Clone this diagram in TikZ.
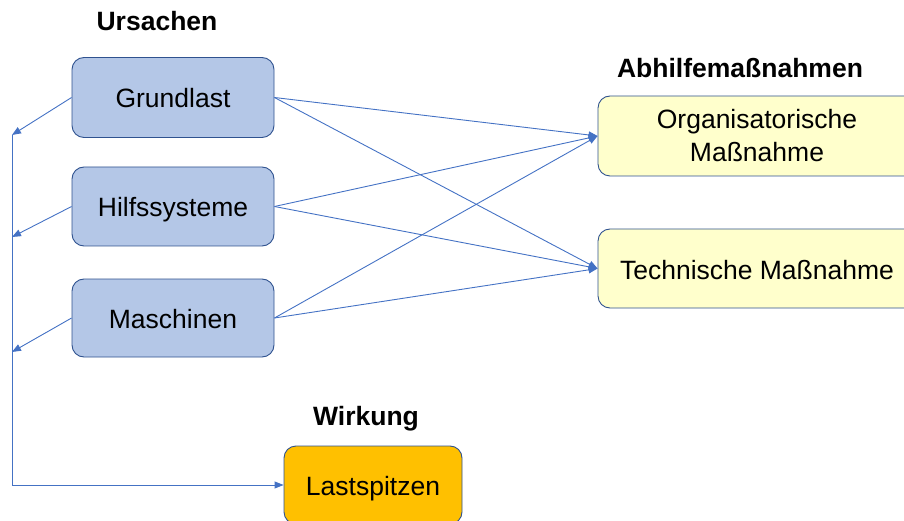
\documentclass[tikz,border=0pt]{standalone}
\usepackage{fontspec}
\setmainfont{Liberation Sans}
\usetikzlibrary{arrows.meta}
\definecolor{lineblue}{HTML}{4472C4}
\definecolor{boxedge}{HTML}{2F528F}
\definecolor{boxblue}{HTML}{B4C7E7}
\definecolor{boxyellow}{HTML}{FFFFCC}
\definecolor{boxorange}{HTML}{FFC000}
\newcommand{\lowtxt}[2][10.5pt]{\raisebox{-#1}[0pt][0pt]{#2}}
\tikzset{
  base/.style={draw=boxedge, line width=0.9pt, rounded corners=12pt, align=center, inner sep=0pt,
    font=\fontsize{26.5}{33}\selectfont},
  cause/.style={base, fill=boxblue, minimum width=202pt},
  remedy/.style={base, fill=boxyellow, minimum width=318pt, minimum height=80pt},
  effect/.style={base, fill=boxorange, minimum width=178pt, minimum height=78pt},
  heading/.style={font=\fontsize{26.5}{31}\bfseries\selectfont, inner sep=0pt},
  arr/.style={draw=lineblue, line width=0.9pt, -{Triangle[length=9pt,width=7pt]}}
}
\begin{document}
\begin{tikzpicture}[x=1pt,y=-1pt]
\useasboundingbox (0,0) rectangle (904,521);
\clip (0,0) rectangle (904,521);
\node[heading] (hu) at (157,21) {Ursachen};
\node[heading] (ha) at (740,68) {Abhilfemaßnahmen};
\node[heading] (hw) at (366,419) {Wirkung};

\node[cause, minimum height=80pt] (g) at (173,97.5) {\lowtxt{Grundlast}};
\node[cause, minimum height=79pt] (h) at (173,206.5) {\lowtxt{Hilfssysteme}};
\node[cause, minimum height=78pt] (m) at (173,318) {\lowtxt{Maschinen}};
\node[remedy] (o) at (757,136) {Organisatorische\\Maßnahme};
\node[remedy, minimum height=79pt] (t) at (757,268.5) {\lowtxt[11pt]{Technische Maßnahme}};
\node[effect] (l) at (373,485) {\lowtxt{Lastspitzen}};

\coordinate (b1) at (12,135);
\coordinate (b2) at (12,237);
\coordinate (b3) at (12,352);

\draw[arr] (g.west) -- (b1);
\draw[arr] (h.west) -- (b2);
\draw[arr] (m.west) -- (b3);
\draw[arr] (b1) |- (l.west);

\foreach \s in {g,h,m}{
  \draw[arr] (\s.east) -- (o.west);
  \draw[arr] (\s.east) -- (t.west);
}
\end{tikzpicture}
\end{document}
